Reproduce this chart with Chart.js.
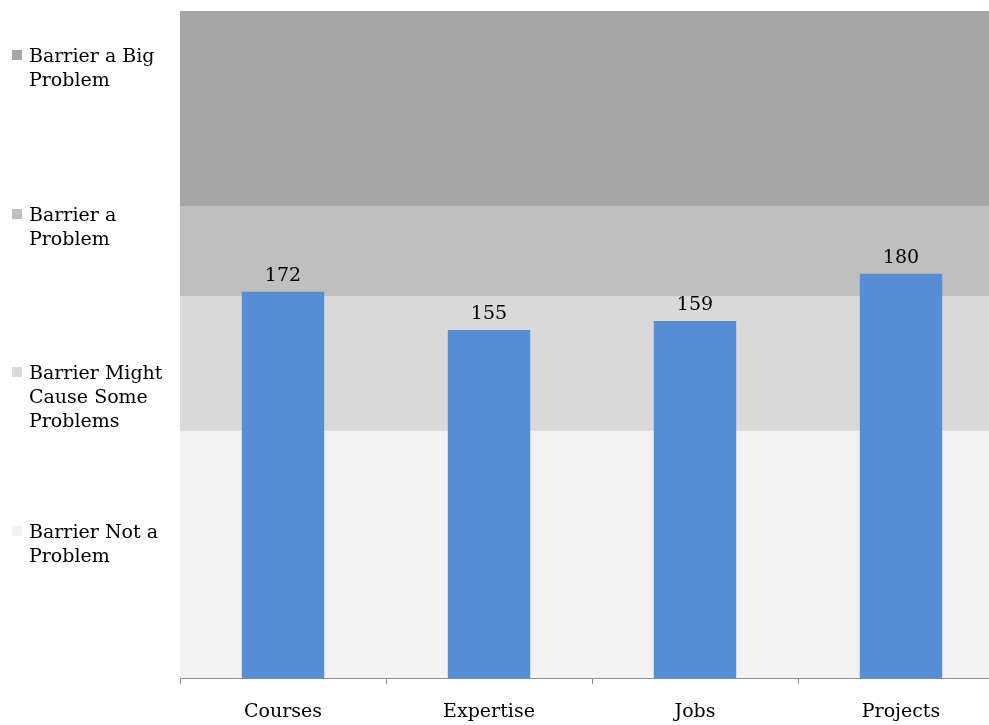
<!DOCTYPE html>
<html>
<head>
<meta charset="utf-8">
<script src="https://cdn.jsdelivr.net/npm/chart.js@4.4.0/dist/chart.umd.min.js"></script>
<style>
  body { margin: 0; background: #fff; overflow: hidden; }
  #wrap { position: relative; width: 989px; height: 725px; overflow: hidden; }
  #legend { position: absolute; left: 12px; top: 43px; width: 165px; font-family: "DejaVu Serif", serif; font-size: 19px; line-height: 24px; color: #000; }
  #legend .item { display: flex; align-items: flex-start; height: 158.7px; }
  #legend .box { width: 10px; height: 10px; margin-top: 7px; margin-right: 7px; flex: none; }
</style>
</head>
<body>
<div id="wrap">
  <!-- canvas is a bit wider than the window: the plot runs past the right edge like the original -->
  <canvas id="myChart" width="1004" height="725"></canvas>
  <div id="legend"></div>
</div>
<script>
const categories = ["Courses", "Expertise", "Jobs", "Projects"];
const scores = [172, 155, 159, 180];

// background bands, bottom to top (stacked)
const bandNames = ["Barrier Not a Problem", "Barrier Might Cause Some Problems", "Barrier a Problem", "Barrier a Big Problem"];
const bandSizes = [110, 60, 40, 87];
const bandColors = ["#f2f2f2", "#d9d9d9", "#bfbfbf", "#a6a6a6"];

const FONT = "'DejaVu Serif', serif";

const bandSets = bandNames.map((name, i) => ({
  label: name,
  data: [bandSizes[i]],
  backgroundColor: bandColors[i],
  xAxisID: "xBand",
  stack: "bands",
  grouped: false,
  barPercentage: 1,
  categoryPercentage: 1,
  order: 2,
}));

const valueLabels = {
  id: "valueLabels",
  afterDatasetsDraw(chart) {
    const c = chart.ctx;
    const meta = chart.getDatasetMeta(0);
    c.save();
    c.font = "19px " + FONT;
    c.fillStyle = "#000";
    c.textAlign = "center";
    c.textBaseline = "bottom";
    meta.data.forEach((bar, i) => {
      c.fillText(String(scores[i]), bar.x, bar.y - 6);
    });
    c.restore();
  },
};

const ctx = document.getElementById("myChart");
const chart = new Chart(ctx, {
  type: "bar",
  data: {
    labels: categories,
    datasets: [
      {
        label: "Score",
        data: scores,
        backgroundColor: "#558ed5",
        xAxisID: "x",
        grouped: false,
        barPercentage: 0.8,
        categoryPercentage: 0.5,
        order: 1,
      },
      ...bandSets,
    ],
  },
  options: {
    responsive: false,
    animation: false,
    layout: { padding: { left: 180, top: 11, right: 0, bottom: 0 } },
    plugins: { legend: { display: false }, tooltip: { enabled: false } },
    scales: {
      x: {
        grid: { offset: true, drawOnChartArea: false, tickLength: 6, color: "#8c8c8c" },
        border: { color: "#8c8c8c" },
        ticks: { padding: 17, color: "#000", font: { family: FONT, size: 19 } },
        afterFit(scale) { scale.height = 47; },
      },
      xBand: {
        display: false,
        labels: ["all"],
        offset: true,
      },
      y: {
        min: 0,
        max: 297,
        stacked: true,
        grid: { display: false, drawTicks: false },
        border: { display: true, color: "#bfbfbf" },
        ticks: { display: false },
      },
    },
  },
  plugins: [valueLabels],
});

// html legend, top item = last band
const legend = document.getElementById("legend");
for (let i = bandNames.length - 1; i >= 0; i--) {
  const item = document.createElement("div");
  item.className = "item";
  const box = document.createElement("span");
  box.className = "box";
  box.style.background = bandColors[i];
  const txt = document.createElement("span");
  txt.textContent = bandNames[i];
  item.appendChild(box);
  item.appendChild(txt);
  legend.appendChild(item);
}
</script>
</body>
</html>
